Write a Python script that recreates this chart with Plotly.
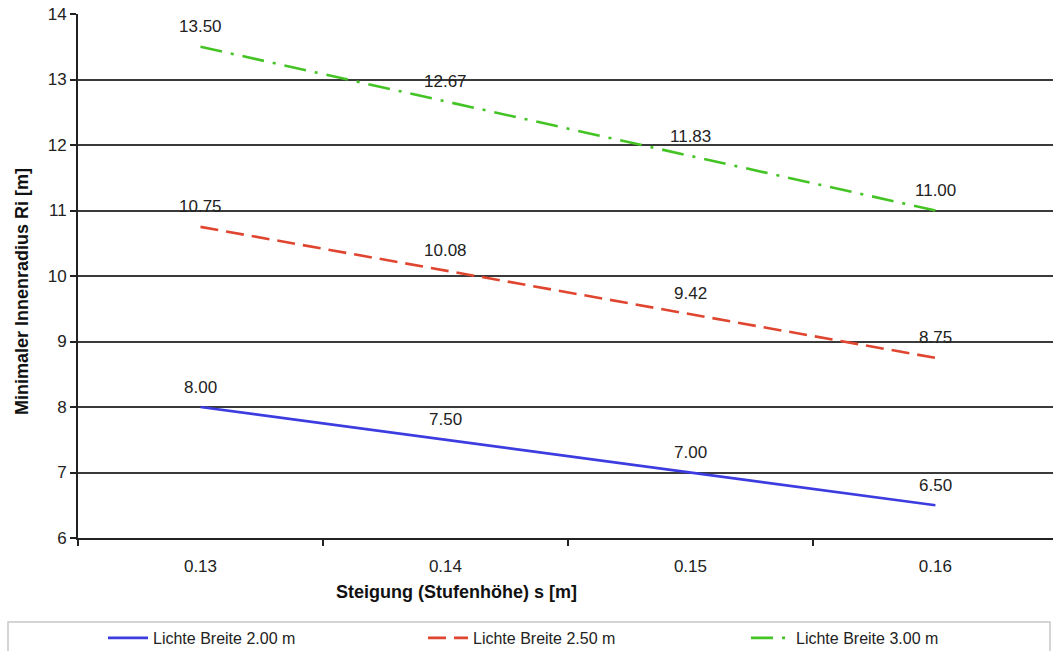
import plotly.graph_objects as go

categories = ["0.13", "0.14", "0.15", "0.16"]
series_names = ["Lichte Breite 2.00 m", "Lichte Breite 2.50 m", "Lichte Breite 3.00 m"]
values_200 = [8.00, 7.50, 7.00, 6.50]
values_250 = [10.75, 10.08, 9.42, 8.75]
values_300 = [13.50, 12.67, 11.83, 11.00]
y_ticks = [6, 7, 8, 9, 10, 11, 12, 13, 14]

all_values = [values_200, values_250, values_300]
colors = ["#3c3ce0", "#e04530", "#44c424"]
dashes = ["solid", "18px,8px", "22px,9px,3px,9px"]
legend_ids = ["legend", "legend2", "legend3"]
legend_left_px = [103, 423, 746]

FONT = "Liberation Sans, Arial, sans-serif"

fig = go.Figure()
for name, vals, col, dash, lid in zip(series_names, all_values, colors, dashes, legend_ids):
    fig.add_trace(go.Scatter(
        x=categories, y=vals, mode="lines", name=name, legend=lid,
        line=dict(color=col, width=2.6, dash=dash),
    ))

annotations = []
for vals in all_values:
    for i, v in enumerate(vals):
        annotations.append(dict(
            x=i, y=v, xref="x", yref="y", text=f"{v:.2f}", showarrow=False,
            yshift=20, xanchor="center", yanchor="middle",
            font=dict(family=FONT, size=17, color="#222222"),
        ))

# axis titles
annotations.append(dict(
    x=(456 - 78) / 975, y=-(592 - 538) / 524, xref="paper", yref="paper",
    text="<b>Steigung (Stufenhöhe) s [m]</b>", showarrow=False,
    xanchor="center", yanchor="middle",
    font=dict(family=FONT, size=18, color="#111111"),
))
annotations.append(dict(
    x=-(78 - 22) / 975, y=(538 - 292) / 524, xref="paper", yref="paper",
    text="<b>Minimaler Innenradius Ri [m]</b>", showarrow=False, textangle=-90,
    xanchor="center", yanchor="middle",
    font=dict(family=FONT, size=18, color="#111111"),
))

legend_style = dict(
    orientation="h", xanchor="left",
    y=-(638 - 538) / 524, yanchor="middle",
    font=dict(family=FONT, size=16, color="#222222"),
    itemwidth=40, bgcolor="rgba(0,0,0,0)",
)
legends = {}
for lid, px in zip(legend_ids, legend_left_px):
    legends[lid] = dict(legend_style, x=(px - 78) / 975)

fig.update_layout(
    width=1053, height=651,
    margin=dict(l=78, r=0, t=14, b=113, autoexpand=False),
    paper_bgcolor="white", plot_bgcolor="white",
    font=dict(family=FONT, size=17, color="#222222"),
    showlegend=True,
    annotations=annotations,
    shapes=[dict(
        type="rect", xref="paper", yref="paper",
        x0=(8 - 78) / 975, x1=(1050 - 78) / 975,
        y0=-(622 - 538) / 524, y1=-(665 - 538) / 524,
        line=dict(color="#c8c8c8", width=1.5), fillcolor="rgba(0,0,0,0)",
        layer="below",
    )],
    xaxis=dict(
        type="category", range=[-0.5, 3.48],
        showgrid=False, zeroline=False,
        showline=True, linecolor="#222222", linewidth=2,
        ticks="outside", ticklen=6, tickwidth=1.5, tickcolor="#222222",
        tickson="boundaries", ticklabelstandoff=12,
        tickfont=dict(family=FONT, size=17, color="#222222"),
    ),
    yaxis=dict(
        range=[6, 14], tickvals=y_ticks,
        showgrid=True, gridcolor="#3a3a3a", gridwidth=1.5,
        zeroline=False,
        showline=True, linecolor="#222222", linewidth=2,
        ticks="outside", ticklen=6, tickwidth=1.5, tickcolor="#222222",
        tickfont=dict(family=FONT, size=17, color="#222222"),
    ),
    **legends,
)

fig.write_html("out.html")
